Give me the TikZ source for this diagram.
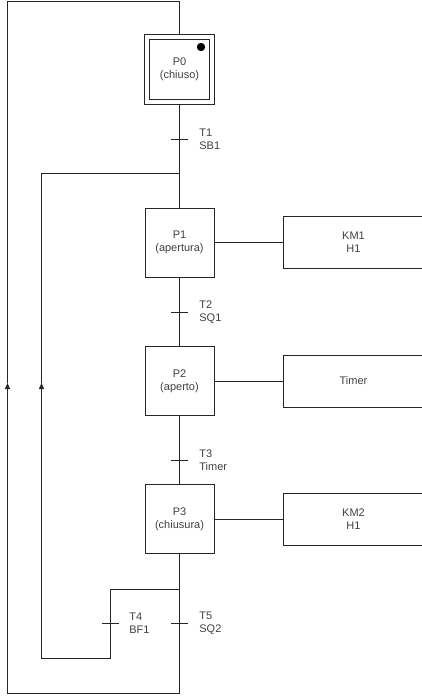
\documentclass[tikz,border=0pt]{standalone}
\usepackage{fontspec}
\setmainfont{Liberation Sans}
\usetikzlibrary{calc,positioning,arrows.meta}

\tikzset{
    stepbox/.style={draw, minimum size=69pt, inner sep=0pt, align=center},
    actbox/.style={draw, minimum width=141pt, minimum height=52pt, inner sep=0pt, align=center},
    translabel/.style={anchor=west, align=left, inner sep=0pt},
    uparrow/.style={-{Triangle[length=6pt,width=5pt]}}
}

\begin{document}
\begin{tikzpicture}[x=1pt, y=-1pt, line width=0.8pt, draw=black!85,
    every node/.style={font=\fontsize{11}{13}\selectfont, text=black!75}]
    \useasboundingbox (0,0) rectangle (422,700);
    \def\tick{8.5}    % Half length of a transition tick

    % Steps
    \node[stepbox, minimum size=70pt] (P0) at (179.5,69) {};
    \node[stepbox, minimum size=60pt] (P0in) at (P0) {P0\\(chiuso)};
    \fill[black] (201,47) circle (4.2pt);
    \node[stepbox] (P1) at (179.5,242.5) {P1\\(apertura)};
    \node[stepbox] (P2) at (179.5,381) {P2\\(aperto)};
    \node[stepbox] (P3) at (179.5,519) {P3\\(chiusura)};

    % Actions
    \node[actbox] (A1) at (353.5,242.5) {KM1\\H1};
    \node[actbox] (A2) at (353.5,381) {Timer};
    \node[actbox] (A3) at (353.5,519) {KM2\\H1};
    \draw (P1.east) -- (A1.west);
    \draw (P2.east) -- (A2.west);
    \draw (P3.east) -- (A3.west);

    % Corners of the loops
    \coordinate (top) at (179.5,1.5);
    \coordinate (topleft) at (7.5,1.5);
    \coordinate (botleft) at (7.5,693.5);
    \coordinate (bot) at (179.5,693.5);
    \coordinate (join) at (179.5,173.5);
    \coordinate (joinleft) at (41.5,173.5);
    \coordinate (split) at (179.5,589.5);
    \coordinate (splitleft) at (110.5,589.5);
    \coordinate (backright) at (110.5,658.5);
    \coordinate (backleft) at (41.5,658.5);

    % Transitions
    \coordinate (T1) at (179.5,139.5);
    \coordinate (T2) at (179.5,312.5);
    \coordinate (T3) at (179.5,460.5);
    \coordinate (T4) at (110.5,623.5);
    \coordinate (T5) at (179.5,623.5);

    % Main line
    \draw (P0.south) -- (P1.north);
    \draw (P1.south) -- (P2.north);
    \draw (P2.south) -- (P3.north);
    \draw (P3.south) -- (bot);

    % Outer loop back to P0
    \draw (bot) -- (botleft);
    \draw[uparrow] (botleft) -- (7.5,383);
    \draw (7.5,383) -- (topleft) -- (top) -- (P0.north);

    % Inner loop back to P1
    \draw (split) -- (splitleft) -- (backright) -- (backleft);
    \draw[uparrow] (backleft) -- (41.5,383);
    \draw (41.5,383) -- (joinleft) -- (join);

    % Ticks
    \foreach \t in {T1,T2,T3,T4,T5}
        \draw ($(\t)+(-\tick,0)$) -- ($(\t)+(\tick,0)$);

    % Transition labels
    \node[translabel] (L1) at (199,139) {T1\\SB1};
    \node[translabel] (L2) at (199,312) {T2\\SQ1};
    \node[translabel] (L3) at (199,460) {T3\\Timer};
    \node[translabel] (L4) at (129,623) {T4\\BF1};
    \node[translabel] (L5) at (199,623) {T5\\SQ2};
\end{tikzpicture}
\end{document}
